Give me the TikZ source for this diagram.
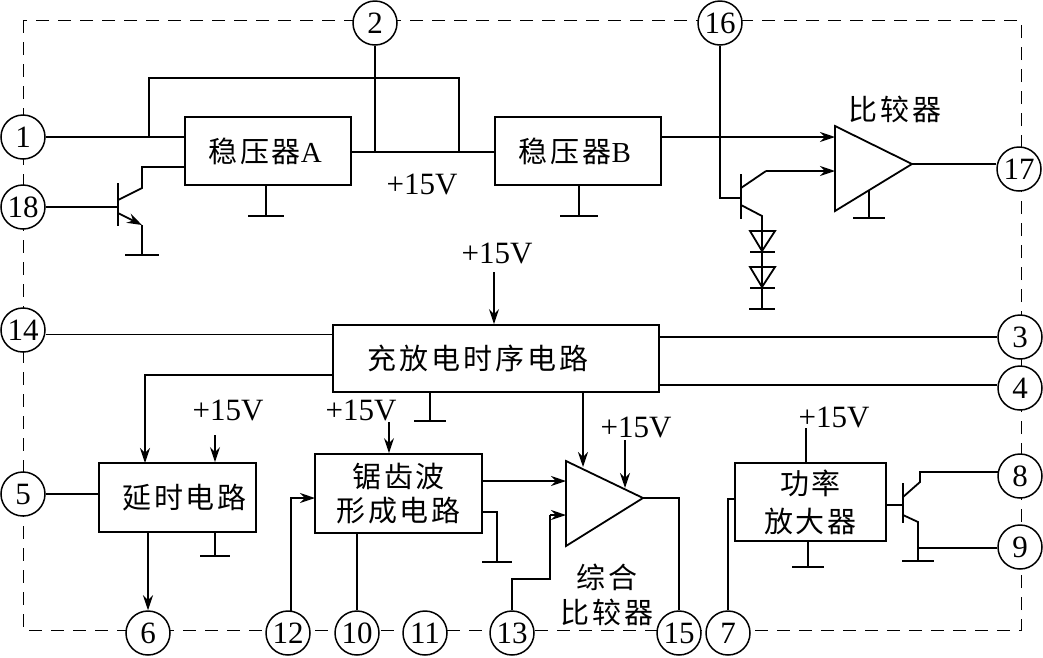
\documentclass[tikz,border=0pt]{standalone}
\usepackage{fontspec}
\setmainfont{Liberation Serif}
\newfontfamily\cjk[LetterSpace=10]{Noto Sans CJK SC}
\usetikzlibrary{arrows.meta, calc}

\begin{document}
\begin{tikzpicture}[x=1pt, y=-1pt, >=Stealth,
  wire/.style={line width=1.8pt},
  arr/.style={wire, -{Stealth[length=15pt, width=10pt, inset=5pt]}},
  pincirc/.style={circle, draw, fill=white, line width=1.5pt, minimum size=44pt, inner sep=0pt,
              font=\fontsize{31}{31}\selectfont},
  blk/.style={draw, line width=1.8pt, inner sep=0pt, align=center,
              font=\cjk\fontsize{29}{35}\selectfont},
  volt/.style={inner sep=0pt, font=\fontsize{31}{31}\selectfont},
  captxt/.style={inner sep=0pt, align=center, font=\cjk\fontsize{29}{35}\selectfont}]
  \useasboundingbox (0,0) rectangle (1043,657);
  % dashed outline of the chip
  \draw[line width=1pt, dash pattern=on 13pt off 9pt] (23,20) rectangle (1021,630);

  % pins
  \foreach \pname/\px/\py/\ptext in {p1/23/137/1, p18/23/207/18, p2/375/23/2, p16/720/23/16,
      p17/1019/169/17, p14/23/330/14, p3/1020/337/3, p4/1020/388/4, p8/1020/476/8, p9/1020/547/9,
      p5/23/494/5, p6/148/633/6, p12/288/633/12, p10/357/633/10, p11/425/633/11, p13/512/633/13,
      p15/679/633/15, p7/728/633/7}
    \node[pincirc] (\pname) at (\px,\py) {\ptext};

  % blocks
  \node[blk, minimum width=166pt, minimum height=68pt] (rega) at (268,151) {\hspace*{-6pt}\raisebox{-1pt}{稳压器{\rmfamily A}}};
  \node[blk, minimum width=166pt, minimum height=68pt] (regb) at (578,151) {\hspace*{-6pt}\raisebox{-1pt}{稳压器{\rmfamily B}}};
  \node[blk, minimum width=326pt, minimum height=67pt] (chg) at (496,358.5) {\hspace*{-36pt}\raisebox{-3pt}{充放电时序电路}};
  \node[blk, minimum width=157pt, minimum height=69pt] (dly) at (177.5,497.5) {\hspace*{14pt}\raisebox{-2pt}{延时电路}};
  \node[blk, minimum width=167pt, minimum height=79pt] (saw) at (398.5,493.5) {\raisebox{-3pt}{锯齿波}\\\raisebox{-2pt}{形成电路}};
  \node[blk, minimum width=151pt, minimum height=78pt, font=\cjk\fontsize{29}{38}\selectfont] (pwr) at (810.5,502) {\raisebox{2pt}{功率}\\\raisebox{2pt}{放大器}};

  % comparators
  \coordinate (cmpa) at (835,126);
  \coordinate (cmpb) at (835,211);
  \coordinate (cmpo) at (912,164);
  \draw[wire, line join=miter] (cmpa) -- (cmpb) -- (cmpo) -- cycle;
  \coordinate (suma) at (566,461);
  \coordinate (sumb) at (566,546);
  \coordinate (sumo) at (643,498);
  \draw[wire] (suma) -- (sumb) -- (sumo) -- cycle;

  % labels
  \node[captxt] (cmptxt) at (895,109) {比较器};
  \node[captxt] (sumtxt) at (607,595) {综合\\比较器};
  \node[volt] (v1) at (422,184) {+15V};
  \node[volt] (v2) at (497,253) {+15V};
  \node[volt] (v3) at (228,410) {+15V};
  \node[volt] (v4) at (361,410) {+15V};
  \node[volt] (v5) at (636,427) {+15V};
  \node[volt] (v6) at (834,417) {+15V};

  % grounds
  \foreach \gname/\gx/\gy/\gw in {gnda/266/216/18, gndb/579/216/19, gndc/869/218/16, gndq/142/255/17,
      gndd/215/556/15, gndh/430/421/16, gnds/497/562/15, gndp/808/567/16, gndt/918/561/16}
    {\coordinate (\gname) at (\gx,\gy);
     \draw[wire] ([xshift=-\gw pt]\gname) -- ([xshift=\gw pt]\gname);}
  \draw[wire] (gnda |- rega.south) -- (gnda);
  \draw[wire] (gndb |- regb.south) -- (gndb);
  \draw[wire] (869,190) -- (gndc);
  \draw[wire] (gndh |- chg.south) -- (gndh);
  \draw[wire] (gndd |- dly.south) -- (gndd);
  \draw[wire] (gndp |- pwr.south) -- (gndp);

  % top row wiring
  \draw[wire] (p1) -- (p1 -| rega.west);
  \coordinate (bus) at (149,78);
  \coordinate (busr) at (459,152);
  \draw[wire] (bus |- p1) -- (bus) -| (busr);
  \coordinate (out) at (351,152);
  \draw[wire] (out) -- (out -| regb.west);
  \draw[wire] (p2) -- (p2 |- out);

  % transistor at pin 18
  \coordinate (qb) at (118,207);
  \draw[wire] (p18) -- (qb);
  \draw[wire] (118,183) -- (118,226);
  \coordinate (qc) at (185,167);
  \draw[wire] (118,200) -- (142,188) -- (142,167) -- (qc);
  \draw[arr] (118,213) -- (142,225);
  \draw[wire] (142,225) -- (gndq);

  % regulator B to comparator
  \coordinate (cmpi) at (835,137);
  \draw[arr] (cmpi -| regb.east) -- (cmpi);
  \coordinate (tb) at (741,198);
  \draw[wire] (p16) |- (tb);
  \draw[wire] (741,174) -- (741,219);
  \coordinate (cmpj) at (835,171);
  \draw[wire] (741,188) -- (766,171);
  \draw[arr] (766,171) -- (cmpj);
  \coordinate (tbot) at (762,309);
  \draw[wire] (741,205) -- (762,216) -- (tbot);
  \foreach \dy in {231,267} {
    \draw[wire] (750,\dy) -- (775,\dy) -- (762,\dy+20) -- cycle;
    \draw[wire] (750,\dy+21) -- (775,\dy+21);
  }
  \draw[line width=2.5pt] ([xshift=-13pt]tbot) -- ([xshift=13pt]tbot);
  \draw[wire] (cmpo) -- (cmpo -| p17.west);

  % charge block wiring
  \coordinate (c14) at (333,334.5);
  \draw[wire] (c14 -| p14.east) -- (c14);
  \draw[wire] (p3) -- (p3 -| chg.east);
  \coordinate (c4) at (659,385);
  \draw[wire] (c4) -- (c4 -| p4.west);
  \coordinate (vtop) at (494,272);
  \draw[arr] (vtop) -- (vtop |- chg.north);
  \coordinate (c5) at (333,375);
  \coordinate (dtop) at (145,463);
  \draw[arr] (c5) -| (dtop);
  \coordinate (sumin) at (583,467);
  \draw[arr] (sumin |- chg.south) -- (sumin);

  % delay block wiring
  \draw[wire] (p5) -- (p5 -| dly.west);
  \coordinate (vd) at (215,435);
  \draw[arr] (vd) -- (vd |- dly.north);
  \draw[arr] (p6 |- dly.south) -- (p6);

  % sawtooth block wiring
  \coordinate (vs) at (389,422);
  \draw[arr] (vs) -- (vs |- saw.north);
  \coordinate (s12) at (315,498);
  \draw[arr] (291,611) |- (s12);
  \draw[wire] (p10) -- (p10 |- saw.south);
  \coordinate (s1) at (482,481);
  \draw[arr] (s1) -- (s1 -| suma);
  \coordinate (s2) at (482,512);
  \draw[wire] (s2) -| (gnds);

  % summing comparator wiring
  \coordinate (vc) at (625,440);
  \draw[arr] (vc) -- (625,488);
  \coordinate (s13) at (566,515);
  \draw[wire] (p13) |- (550,579) -- (550,515);
  \draw[arr] (550,515) -- (s13);
  \draw[wire] (sumo) -| (p15);

  % power amplifier wiring
  \coordinate (p7t) at (735,499);
  \draw[wire] (p7) |- (p7t);
  \coordinate (vp) at (806,428);
  \draw[wire] (vp) -- (vp |- pwr.north);
  \coordinate (tp) at (903,505);
  \draw[wire] (tp -| pwr.east) -- (tp);
  \draw[wire] (903,483) -- (903,523);
  \coordinate (t8) at (998,472);
  \draw[wire] (903,497) -- (920,482) -- (920,472) -- (t8);
  \draw[wire] (903,515) -- (918,522) -- (gndt);
  \coordinate (t9) at (918,548);
  \draw[wire] (t9) -- (t9 -| p9.west);
\end{tikzpicture}
\end{document}
